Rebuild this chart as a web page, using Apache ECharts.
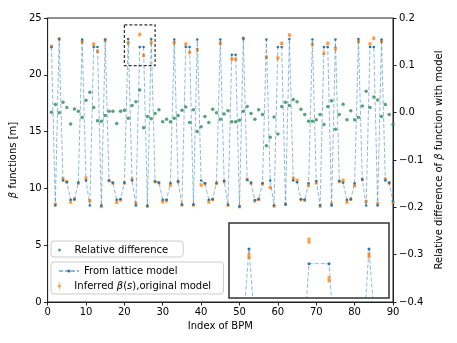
<!DOCTYPE html>
<html>
<head>
<meta charset="utf-8">
<script src="https://cdn.jsdelivr.net/npm/echarts@6/dist/echarts.min.js"></script>
<style>
html, body { margin: 0; padding: 0; background: #fff; }
#chart { width: 457px; height: 343px; }
</style>
</head>
<body>
<div id="chart"></div>
<script>
// BPM index 1..90
const bpmIndex = [
    1, 2, 3, 4, 5, 6, 7, 8, 9, 10, 11, 12, 13, 14, 15, 16, 17, 18, 19, 20,
    21, 22, 23, 24, 25, 26, 27, 28, 29, 30, 31, 32, 33, 34, 35, 36, 37, 38, 39, 40,
    41, 42, 43, 44, 45, 46, 47, 48, 49, 50, 51, 52, 53, 54, 55, 56, 57, 58, 59, 60,
    61, 62, 63, 64, 65, 66, 67, 68, 69, 70, 71, 72, 73, 74, 75, 76, 77, 78, 79, 80,
    81, 82, 83, 84, 85, 86, 87, 88, 89, 90
];
// beta from lattice model [m]
const betaModel = [
    22.45, 8.5, 23.15, 10.7, 10.55, 9.0, 9.05, 10.5, 23.1, 10.7,
    8.5, 22.45, 22.45, 8.5, 23.1, 10.7, 10.5, 9.0, 9.05, 10.5,
    23.15, 10.7, 8.5, 22.45, 22.45, 8.45, 23.15, 10.6, 10.5, 9.0,
    9.0, 10.48, 23.1, 10.6, 8.55, 22.45, 22.45, 8.55, 23.1, 10.7,
    10.45, 9.0, 9.05, 10.48, 23.1, 10.65, 8.55, 21.77, 21.77, 8.4,
    23.2, 10.75, 10.5, 8.95, 9.05, 10.45, 23.1, 10.7, 8.5, 22.45,
    22.45, 8.6, 23.15, 10.7, 10.55, 9.05, 9.0, 10.45, 23.1, 10.65,
    8.5, 22.45, 22.45, 8.5, 23.1, 10.65, 10.5, 9.0, 9.05, 10.45,
    23.15, 10.78, 8.5, 22.45, 22.45, 8.5, 23.1, 10.7, 10.5, 8.9
];
// inferred beta, original model [m]
const betaInferred = [
    22.5, 8.6, 23.15, 10.85, 10.6, 8.8, 9.05, 10.48, 22.9, 10.9,
    8.9, 22.7, 22.07, 8.42, 23.05, 10.68, 10.48, 8.78, 9.0, 10.48,
    22.82, 10.8, 8.68, 23.55, 21.7, 8.45, 22.85, 10.6, 10.5, 8.83,
    8.92, 10.3, 22.82, 10.6, 8.55, 22.7, 21.98, 8.55, 22.2, 10.3,
    10.42, 8.82, 9.02, 10.45, 22.78, 10.6, 8.53, 21.38, 21.38, 8.4,
    23.2, 10.8, 10.47, 8.9, 9.05, 10.42, 21.55, 10.08, 8.45, 21.48,
    22.77, 8.6, 23.5, 10.9, 10.7, 9.02, 8.97, 10.25, 22.7, 10.5,
    8.45, 21.9, 22.77, 8.6, 22.33, 10.62, 10.7, 8.8, 9.05, 10.25,
    22.92, 10.78, 8.85, 22.72, 23.22, 8.65, 22.95, 10.82, 10.48, 8.8
];
// relative difference (right axis)
const relDiff = [
    0.001, 0.017, 0.0, 0.022, 0.011, -0.024, 0.008, 0.003, -0.010, 0.026,
    0.043, 0.011, -0.017, -0.018, -0.006, 0.003, 0.003, -0.023, 0.003, 0.005,
    -0.012, 0.015, 0.023, 0.048, -0.032, -0.008, -0.013, -0.002, 0.006, -0.019,
    -0.014, -0.019, -0.012, -0.006, 0.005, 0.012, -0.021, 0.006, -0.040, -0.030,
    -0.008, -0.021, 0.007, 0.0, -0.014, -0.003, 0.004, -0.019, -0.019, -0.016,
    0.003, 0.013, -0.002, -0.014, 0.006, -0.004, -0.070, -0.052, -0.009, -0.045,
    0.013, 0.022, 0.015, 0.028, 0.023, 0.007, -0.004, -0.018, -0.018, -0.015,
    -0.004, -0.025, 0.013, 0.025, -0.035, -0.004, 0.018, -0.015, 0.004, -0.015,
    -0.010, 0.014, 0.045, 0.011, 0.033, 0.027, -0.008, 0.017, -0.004, -0.025
];
// zoom window shown in the inset
const zoomX = [20, 28];
const zoomY = [20.8, 24.4];

const FONT = 'DejaVu Sans';
const nameModel = 'From lattice model';
const nameInferred = 'Inferred β(s),original model';
const nameRel = 'Relative difference';

const modelPts = bpmIndex.map((x, k) => [x, betaModel[k]]);
const inferredPts = bpmIndex.map((x, k) => [x, betaInferred[k]]);
const relPts = bpmIndex.map((x, k) => [x, relDiff[k]]);

const blueLine = {
    color: 'rgba(31,119,180,0.5)',
    width: 1,
    type: [4, 2]
};
const axisText = { color: '#000', fontSize: 10, fontFamily: FONT };
const italic = { fontStyle: 'italic', fontSize: 10, fontFamily: FONT, color: '#000' };

let myChart = echarts.init(document.getElementById('chart'), null, { renderer: 'canvas' });

let option = {
    animation: false,
    textStyle: { fontFamily: FONT },
    grid: [
        { left: 47, top: 18, width: 346, height: 284, show: true, borderColor: '#222', borderWidth: 1, backgroundColor: 'transparent' },
        // inset
        { left: 229, top: 223, width: 160, height: 75, show: true, borderColor: '#333', borderWidth: 1.5, backgroundColor: '#fff', z: 5 }
    ],
    legend: [
        {
            data: [nameRel],
            left: 51, top: 241, orient: 'vertical',
            itemWidth: 20, itemHeight: 3,
            padding: [4, 15, 2, 7],
            backgroundColor: 'rgba(255,255,255,0.8)',
            borderColor: '#ccc', borderWidth: 1, borderRadius: 3,
            selectedMode: false,
            textStyle: axisText
        },
        {
            data: [nameModel],
            left: 51, top: 262, orient: 'vertical',
            itemWidth: 20, itemHeight: 4,
            padding: [4, 46, 18, 7],
            backgroundColor: 'rgba(255,255,255,0.8)',
            borderColor: '#ccc', borderWidth: 1, borderRadius: 3,
            selectedMode: false,
            textStyle: axisText
        },
        {
            data: [{ name: nameInferred, icon: 'path://M1.2,0h0.6v10h-0.6zM0,3.5h3v3h-3z' }],
            left: 51, top: 281, orient: 'vertical',
            itemWidth: 20, itemHeight: 9,
            padding: [0, 0, 0, 7],
            selectedMode: false,
            formatter: function (name) {
                return 'Inferred {i|β}({i|s}),original model';
            },
            textStyle: Object.assign({ rich: { i: italic } }, axisText)
        }
    ],
    xAxis: [
        {
            type: 'value', gridIndex: 0, min: 0, max: 90, interval: 10,
            name: 'Index of BPM', nameLocation: 'middle', nameGap: 18,
            nameTextStyle: axisText,
            axisLine: { show: true, lineStyle: { color: '#222', width: 1 } },
            axisTick: { show: true, length: 3.5, lineStyle: { color: '#222' } },
            axisLabel: Object.assign({ margin: 5 }, axisText),
            splitLine: { show: false }
        },
        {
            type: 'value', gridIndex: 1, min: zoomX[0], max: zoomX[1], show: false,
            splitLine: { show: false }
        }
    ],
    yAxis: [
        {
            type: 'value', gridIndex: 0, min: 0, max: 25, interval: 5, position: 'left',
            name: '{i|β} functions [m]', nameLocation: 'middle', nameGap: 23, nameRotate: 90,
            nameTextStyle: Object.assign({ rich: { i: italic } }, axisText),
            axisLine: { show: true, lineStyle: { color: '#222', width: 1 } },
            axisTick: { show: true, length: 3.5, lineStyle: { color: '#222' } },
            axisLabel: Object.assign({ margin: 6 }, axisText),
            splitLine: { show: false }
        },
        {
            type: 'value', gridIndex: 0, min: -0.4, max: 0.2, interval: 0.1, position: 'right',
            name: 'Relative difference of {i|β} function with model', nameLocation: 'middle', nameGap: 35, nameRotate: 90,
            nameTextStyle: Object.assign({ rich: { i: italic } }, axisText),
            axisLine: { show: true, lineStyle: { color: '#222', width: 1 } },
            axisTick: { show: true, length: 3.5, lineStyle: { color: '#222' } },
            axisLabel: Object.assign({
                margin: 6,
                formatter: function (v) {
                    if (Math.abs(v) < 1e-9) v = 0;
                    return v.toFixed(1).replace('-', '\u2212');
                }
            }, axisText),
            splitLine: { show: false }
        },
        {
            type: 'value', gridIndex: 1, min: zoomY[0], max: zoomY[1], show: false,
            splitLine: { show: false }
        }
    ],
    series: [
        {
            name: nameModel, type: 'line', xAxisIndex: 0, yAxisIndex: 0,
            data: modelPts,
            symbol: 'circle', symbolSize: 2.5,
            itemStyle: { color: '#1f77b4' },
            lineStyle: blueLine,
            markArea: {
                silent: true,
                itemStyle: { color: 'rgba(0,0,0,0)', borderColor: '#333', borderWidth: 1.2, borderType: [3, 2] },
                data: [[{ coord: [zoomX[0], zoomY[1]] }, { coord: [zoomX[1], zoomY[0]] }]]
            }
        },
        {
            name: nameInferred, type: 'scatter', xAxisIndex: 0, yAxisIndex: 0,
            data: inferredPts,
            symbol: 'rect', symbolSize: [3, 3.5],
            itemStyle: { color: '#ff7f0e' }
        },
        {
            name: nameRel, type: 'scatter', xAxisIndex: 0, yAxisIndex: 1,
            data: relPts,
            symbol: 'circle', symbolSize: 3.5,
            itemStyle: { color: '#2e8b57' }
        },
        // inset copies
        {
            name: nameModel, type: 'line', xAxisIndex: 1, yAxisIndex: 2,
            data: modelPts, z: 6,
            symbol: 'circle', symbolSize: 3,
            itemStyle: { color: '#1f77b4' },
            lineStyle: blueLine
        },
        {
            name: nameInferred, type: 'scatter', xAxisIndex: 1, yAxisIndex: 2,
            data: inferredPts, z: 6,
            symbol: 'rect', symbolSize: [3, 6],
            itemStyle: { color: '#ff7f0e' }
        }
    ]
};
myChart.setOption(option);
</script>
</body>
</html>
